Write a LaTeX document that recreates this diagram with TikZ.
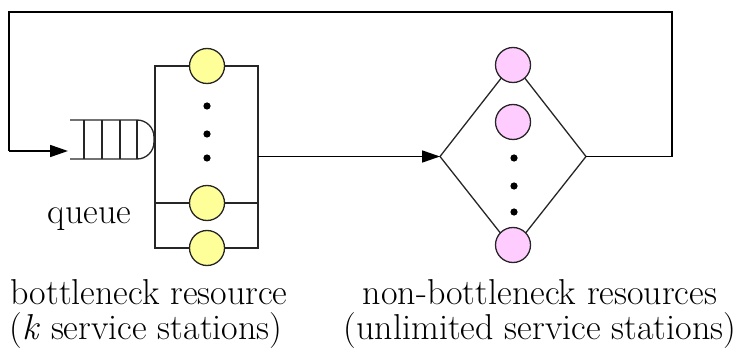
\documentclass[tikz,border=0pt]{standalone}
\usepackage{fontspec}
\setmainfont{Latin Modern Roman}
\usetikzlibrary{arrows.meta}
\definecolor{stationyellow}{RGB}{255,255,153}
\definecolor{stationpink}{RGB}{255,204,255}
\begin{document}
\begin{tikzpicture}[x=0.5pt,y=-0.5pt,
  thinline/.style={draw=black!85,line width=0.65pt},
  flow/.style={draw=black,line width=0.85pt},
  arrowflow/.style={flow,-{Triangle[length=9pt,width=6pt]}},
  ystation/.style={circle,draw=black!85,line width=0.65pt,fill=stationyellow,minimum size=17.5pt,inner sep=0pt},
  pstation/.style={circle,draw=black!85,line width=0.65pt,fill=stationpink,minimum size=17.5pt,inner sep=0pt},
  dotmark/.style={circle,fill=black,minimum size=3.6pt,inner sep=0pt},
  label/.style={font=\fontsize{18}{18}\selectfont,inner sep=0pt}]
\useasboundingbox (0,0) rectangle (737,352);

% queue buffer
\draw[thinline,rounded corners=8.5pt] (70,120) -- (154,120) -- (154,159) -- (70,159);
\foreach \qx in {84,102,120,137} \draw[thinline] (\qx,120) -- (\qx,159);
\coordinate (qin) at (70,151);

% bottleneck resource: k parallel stations
\draw[thinline] (155,66) rectangle (258,248);
\draw[thinline] (155,203) -- (258,203);
\node[ystation] (y1) at (207,66) {};
\node[ystation] (y2) at (207,203) {};
\node[ystation] (y3) at (207,248) {};
\foreach \dy in {106,134,158} \node[dotmark] at (207,\dy) {};
\coordinate (bout) at (258,156.5);

% non-bottleneck resources: unlimited stations
\coordinate (dl) at (440,156.5);
\coordinate (dr) at (586,156.5);
\coordinate (dt) at (513,63);
\coordinate (db) at (513,249);
\draw[thinline] (dl) -- (dt) -- (dr) -- (db) -- cycle;
\node[pstation] (p1) at (513,65) {};
\node[pstation] (p2) at (513,122) {};
\node[pstation] (p3) at (513,245) {};
\foreach \dy in {158,186,212} \node[dotmark] at (514,\dy) {};

% connectors
\draw[arrowflow] (bout) -- (dl);
\coordinate (fr) at (672,156.5);
\coordinate (frt) at (672,12);
\coordinate (flt) at (9,12);
\coordinate (flb) at (9,151);
\draw[flow] (dr) -- (fr) -- (frt) -- (flt) -- (flb);
\draw[arrowflow] (flb) -- ([xshift=-1pt]qin);

% labels
\node[label,anchor=base] (qlabel) at (89.5,223) {queue};
\node[label,anchor=base] (blabel1) at (149,304) {bottleneck resource};
\node[label,anchor=base] (blabel2) at (146,339) {(\textit{k} service stations)};
\node[label,anchor=base] (nlabel1) at (540,304) {non-bottleneck resources};
\node[label,anchor=base] (nlabel2) at (540,339) {(unlimited service stations)};
\end{tikzpicture}
\end{document}
